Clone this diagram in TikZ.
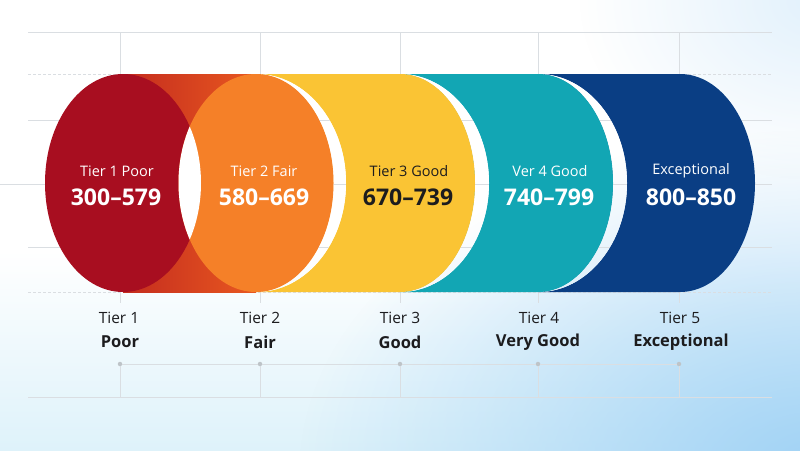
\documentclass[tikz,border=0pt]{standalone}
\usepackage{fontspec}
\setmainfont{Open Sans}
\usetikzlibrary{fadings}
\definecolor{cRed}{RGB}{168,14,32}
\definecolor{cBandA}{RGB}{196,44,30}
\definecolor{cBandB}{RGB}{232,88,32}
\definecolor{cOrange}{RGB}{245,128,40}
\definecolor{cYellow}{RGB}{250,196,52}
\definecolor{cTeal}{RGB}{18,166,180}
\definecolor{cNavy}{RGB}{10,62,132}
\definecolor{gridc}{RGB}{218,222,226}
\definecolor{dotc}{RGB}{190,196,200}
\definecolor{bgBlue}{RGB}{160,210,245}
\definecolor{bgCyan}{RGB}{222,242,250}
\definecolor{txtc}{RGB}{28,28,30}
\tikzfading[name=softblob, inner color=transparent!0, outer color=transparent!100]
\tikzset{
  gridln/.style={draw=gridc, line width=0.8pt},
  griddash/.style={gridln, dash pattern=on 3pt off 2pt},
  inlabel/.style={font=\fontsize{14.5}{16}\selectfont, inner sep=0pt, anchor=center},
  innum/.style={font=\fontsize{23}{26}\selectfont\bfseries, inner sep=0pt, anchor=center},
  tierlab/.style={font=\fontsize{15.5}{18}\selectfont, text=txtc, inner sep=0pt, anchor=center},
  tiername/.style={font=\fontsize{16.5}{19}\selectfont\bfseries, text=txtc, inner sep=0pt, anchor=center},
  dotn/.style={circle, fill=dotc, minimum size=4.5pt, inner sep=0pt}
}
\newcommand\drawbackdrop{%
  \fill[white] (0,0) rectangle (800,450);
  \begin{scope}
    \clip (0,0) rectangle (800,450);
    \shade[top color=white, bottom color=bgCyan] (0,250) rectangle (800,450);
    \fill[white] (0,0) rectangle (800,250);
    \fill[bgBlue, path fading=softblob] (820,470) ellipse [x radius=520pt, y radius=340pt];
    \fill[bgBlue!30, path fading=softblob] (820,0) ellipse [x radius=240pt, y radius=180pt];
  \end{scope}
  \draw[gridln] (28,32) -- (772,32);
  \foreach \gx in {120,260,400,538,679} {\draw[gridln] (\gx,32) -- (\gx,74);}
  \draw[griddash] (28,74) -- (772,74);
  \draw[gridln] (28,120) -- (772,120);
  \draw[gridln] (0,184) -- (772,184);
  \draw[gridln] (28,247) -- (772,247);
  \draw[griddash] (28,292) -- (772,292);
  \foreach \gx in {120,260,400,538,679} {\draw[gridln] (\gx,292) -- (\gx,303);}
  \draw[gridln] (28,397) -- (772,397);
}
\newcommand\crescentpath[1]{(#1,74) arc[start angle=90, end angle=-90, x radius=89pt, y radius=109pt] arc[start angle=-90, end angle=90, x radius=75pt, y radius=109pt] -- cycle}
\begin{document}
\begin{tikzpicture}[x=1pt, y=-1pt]
\useasboundingbox (0,0) rectangle (800,450);
\drawbackdrop

% navy
\fill[cNavy] (538,74) -- (680,74) arc[start angle=90, end angle=-90, x radius=75pt, y radius=109pt] -- (538,292) -- cycle;
% teal crescent + teal
\begin{scope}\clip \crescentpath{538}; \drawbackdrop \end{scope}
\fill[cTeal] (400,74) -- (538,74) arc[start angle=90, end angle=-90, x radius=75pt, y radius=109pt] -- (400,292) -- cycle;
% yellow crescent + yellow
\begin{scope}\clip \crescentpath{400}; \drawbackdrop \end{scope}
\fill[cYellow] (256,74) -- (400,74) arc[start angle=90, end angle=-90, x radius=75pt, y radius=109pt] -- (256,292) -- cycle;
% orange crescent
\begin{scope}\clip (256,74) arc[start angle=90, end angle=-90, x radius=90pt, y radius=109pt] arc[start angle=-90, end angle=90, x radius=77.5pt, y radius=109pt] -- cycle; \drawbackdrop \end{scope}
% band between red and orange
\shade[left color=cBandA, right color=cBandB] (123,74) rectangle (256,292);
% red and orange ellipses
\fill[cRed] (123,183) ellipse [x radius=78pt, y radius=109pt];
\fill[cOrange] (256,183) ellipse [x radius=77.5pt, y radius=109pt];
\begin{scope}
  \clip (123,183) ellipse [x radius=78pt, y radius=109pt];
  \fill[white] (256,183) ellipse [x radius=77.5pt, y radius=109pt];
\end{scope}

% texts in shapes
\node[inlabel, text=white] (s1a) at (117,171) {Tier 1 Poor};
\node[innum, text=white] (s1b) at (116,197) {300--579};
\node[inlabel, text=white] (s2a) at (264,171) {Tier 2 Fair};
\node[innum, text=white] (s2b) at (264,197) {580--669};
\node[inlabel, text=txtc] (s3a) at (409,171) {Tier 3 Good};
\node[innum, text=txtc] (s3b) at (408,197) {670--739};
\node[inlabel, text=white] (s4a) at (550,171) {Ver 4 Good};
\node[innum, text=white] (s4b) at (549,197) {740--799};
\node[inlabel, text=white] (s5a) at (691,171) {Exceptional};
\node[innum, text=white] (s5b) at (691,197) {800--850};

% labels below
\node[tierlab] (l1a) at (119,318) {Tier 1};
\node[tiername] (l1b) at (120,342) {Poor};
\node[tierlab] (l2a) at (260,318) {Tier 2};
\node[tiername] (l2b) at (260,342) {Fair};
\node[tierlab] (l3a) at (400,318) {Tier 3};
\node[tiername] (l3b) at (400,342) {Good};
\node[tierlab] (l4a) at (539,318) {Tier 4};
\node[tiername] (l4b) at (538,342) {Very Good};
\node[tierlab] (l5a) at (680,318) {Tier 5};
\node[tiername] (l5b) at (681,342) {Exceptional};

% timeline
\coordinate (b1) at (120,397);
\coordinate (b2) at (260,397);
\coordinate (b3) at (400,397);
\coordinate (b4) at (538,397);
\coordinate (b5) at (679,397);
\node[dotn] (d1) at (120,364) {};
\node[dotn] (d2) at (260,364) {};
\node[dotn] (d3) at (400,364) {};
\node[dotn] (d4) at (538,364) {};
\node[dotn] (d5) at (679,364) {};
\draw[gridln] (d1) -- (d2) -- (d3) -- (d4) -- (d5);
\foreach \i in {1,...,5} {\draw[gridln] (d\i) -- (b\i);}
\end{tikzpicture}
\end{document}
